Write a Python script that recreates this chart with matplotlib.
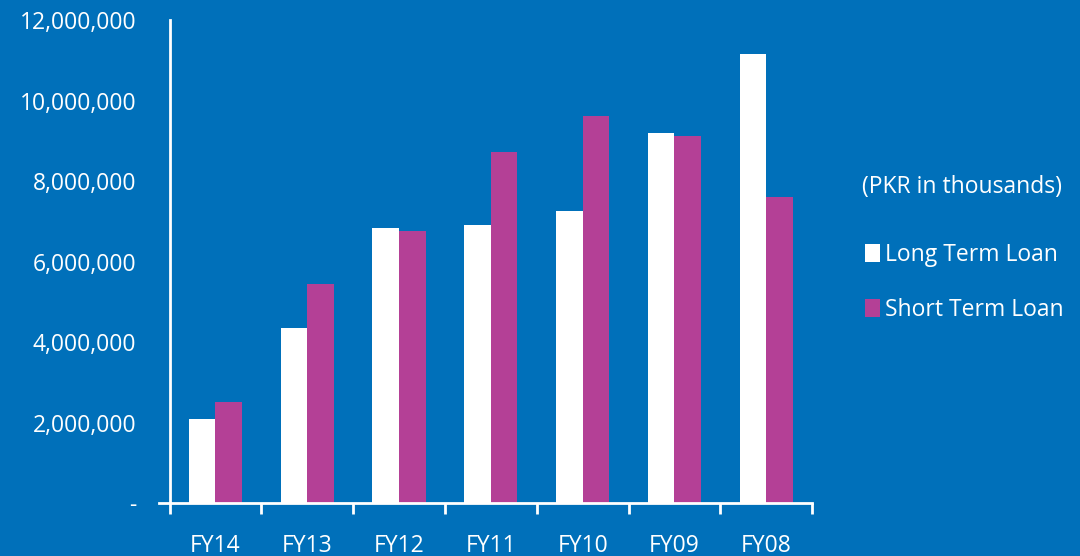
import matplotlib.pyplot as plt
from matplotlib.patches import Patch
from matplotlib.ticker import FuncFormatter
import numpy as np

plt.rcParams['font.family'] = ['Open Sans', 'DejaVu Sans']

years = ["FY14", "FY13", "FY12", "FY11", "FY10", "FY09", "FY08"]
long_term = [2100000, 4350000, 6830000, 6910000, 7250000, 9200000, 11150000]
short_term = [2520000, 5440000, 6760000, 8720000, 9610000, 9130000, 7600000]

bg = "#0070BA"
magenta = "#B44096"

fig = plt.figure(figsize=(10.8, 5.56), dpi=100, facecolor=bg)
ax = fig.add_axes([0.157, 0.095, 0.595, 0.869], facecolor=bg)

x = np.arange(len(years))
w = 0.29
ax.bar(x - w / 2, long_term, w, color="white", label="Long Term Loan")
ax.bar(x + w / 2, short_term, w, color=magenta, label="Short Term Loan")

ax.set_xlim(-0.5, len(years) - 0.5)
ax.set_ylim(0, 12000000)
ax.set_yticks(np.arange(0, 12000001, 2000000))
ax.yaxis.set_major_formatter(FuncFormatter(lambda v, p: "-" if v == 0 else f"{v:,.0f}"))

# category labels centred, tick marks on the boundaries
ax.set_xticks(x)
ax.set_xticklabels(years)
ax.set_xticks(np.arange(-0.5, len(years)), minor=True)
ax.tick_params(axis="x", which="major", length=0, pad=22, labelsize=16.5, labelcolor="white")
ax.tick_params(axis="x", which="minor", length=8, width=2, color="white", direction="out")
ax.tick_params(axis="y", length=0, pad=24, labelsize=16.5, labelcolor="white")

for s in ["top", "right"]:
    ax.spines[s].set_visible(False)
for s in ["left", "bottom"]:
    ax.spines[s].set_color("white")
    ax.spines[s].set_linewidth(2)

# small stub of the x axis to the left of the y axis
ax.plot([-0.61, -0.5], [0, 0], color="white", lw=2, clip_on=False)

fig.text(0.798, 0.663, "(PKR in thousands)", color="white", fontsize=16.5, va="center")
handles = [Patch(facecolor="white", label="Long Term Loan"),
           Patch(facecolor=magenta, label="Short Term Loan")]
fig.legend(handles=handles, loc="upper left", bbox_to_anchor=(0.782, 0.6),
           frameon=False, fontsize=16.5, labelcolor="white",
           handlelength=0.65, handleheight=0.8, handletextpad=0.2, labelspacing=1.35)

fig.savefig("out.png", facecolor=bg)
